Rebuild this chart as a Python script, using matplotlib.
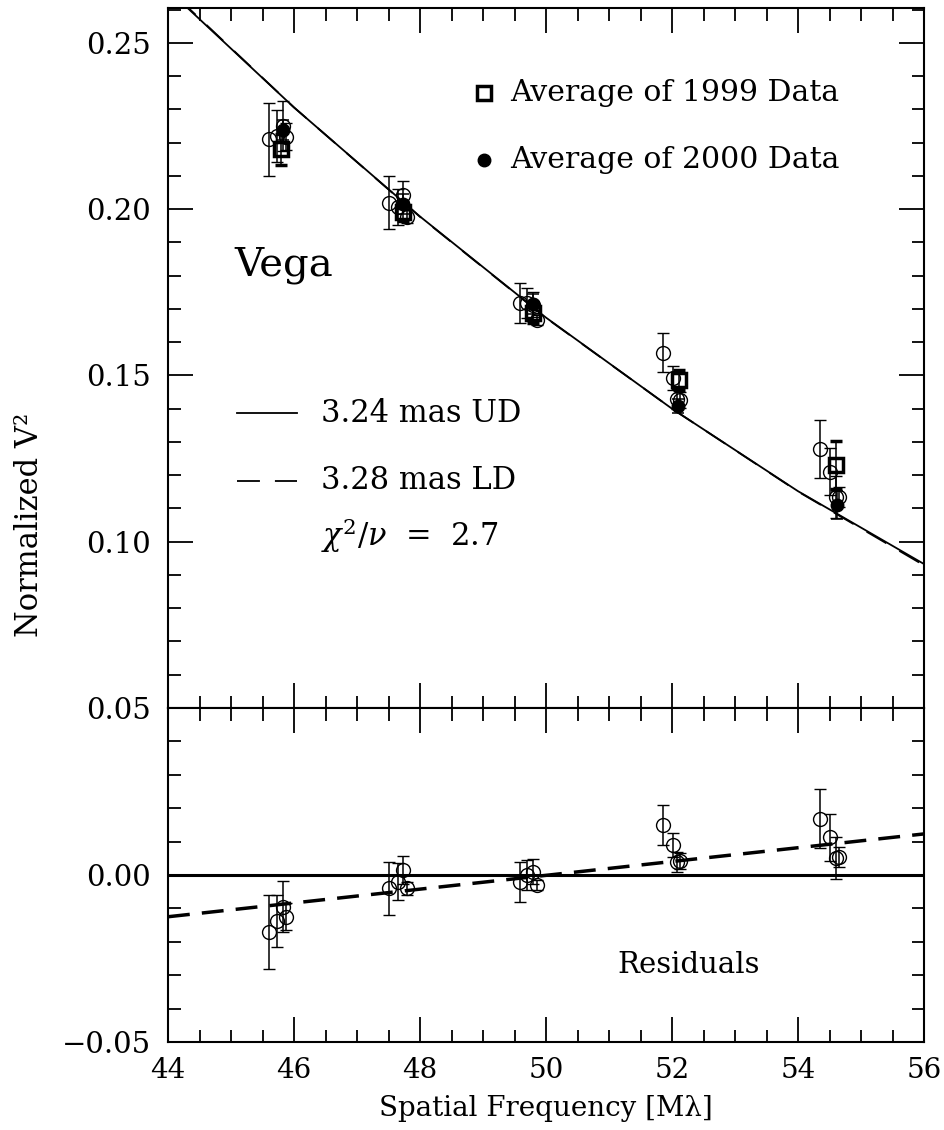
import numpy as np
import matplotlib
matplotlib.use('Agg')
import matplotlib.pyplot as plt
from matplotlib.ticker import MultipleLocator, FormatStrFormatter

plt.rcParams['font.family'] = ['DejaVu Serif']
plt.rcParams['mathtext.fontset'] = 'dejavuserif'

# individual measurements (open circles), 4 per baseline group
freq = [45.61, 45.73, 45.83, 45.88,
        47.51, 47.65, 47.73, 47.79,
        49.58, 49.70, 49.80, 49.85,
        51.85, 52.01, 52.08, 52.13,
        54.35, 54.50, 54.60, 54.65]
v2 = [0.2210, 0.2219, 0.2250, 0.2218,
      0.2020, 0.2007, 0.2043, 0.1977,
      0.1717, 0.1718, 0.1713, 0.1667,
      0.1569, 0.1492, 0.1428, 0.1426,
      0.1279, 0.1211, 0.1134, 0.1134]
v2_err = [0.0110, 0.0078, 0.0076, 0.0040,
          0.0080, 0.0055, 0.0042, 0.0020,
          0.0060, 0.0046, 0.0037, 0.0015,
          0.0060, 0.0037, 0.0030, 0.0025,
          0.0088, 0.0071, 0.0063, 0.0030]
resid = [-0.0170, -0.0137, -0.0095, -0.0125,
         -0.0040, -0.0020, 0.0015, -0.0040,
         -0.0020, 0.0000, 0.0010, -0.0030,
         0.0150, 0.0090, 0.0040, 0.0042,
         0.0168, 0.0113, 0.0050, 0.0055]

# yearly averages
freq_1999 = [45.79, 47.73, 49.80, 52.11, 54.60]
v2_1999 = [0.2180, 0.1993, 0.1689, 0.1486, 0.1231]
err_1999 = [0.0047, 0.0030, 0.0030, 0.0030, 0.0071]
freq_2000 = [45.82, 47.73, 49.80, 52.10, 54.62]
v2_2000 = [0.2238, 0.2017, 0.1715, 0.1408, 0.1111]
err_2000 = [0.0030, 0.0030, 0.0030, 0.0020, 0.0043]

# model curves
model_freq = [44, 46, 48, 50, 52, 54, 56]
ud_v2 = [0.2660, 0.2306, 0.1978, 0.1674, 0.1400, 0.1152, 0.0933]
ld_v2 = [0.2663, 0.2306, 0.1977, 0.1673, 0.1400, 0.1151, 0.0929]

# linear trend in residuals
trend_freq = [44, 56]
trend = [-0.0125, 0.0123]

W, H = 945, 1130
fig = plt.figure(figsize=(W / 100, H / 100), dpi=100)
ax = fig.add_axes([168 / W, (H - 708) / H, 756 / W, 700 / H])
ax2 = fig.add_axes([168 / W, (H - 1042) / H, 756 / W, 334 / H])

ebkw = dict(ecolor='k', elinewidth=1.1, capsize=4.5, capthick=1.1)
ld_dash = (12.7, 8.3)

# top panel
ax.plot(model_freq, ud_v2, color='k', lw=1.3)
ax.plot(model_freq, ld_v2, color='k', lw=1.3, dashes=ld_dash)
ax.errorbar(freq, v2, yerr=v2_err, fmt='o', ms=10, mfc='none', mec='k', mew=1.0, **ebkw)
ax.errorbar(freq_2000, v2_2000, yerr=err_2000, fmt='o', ms=9, mfc='k', mec='k', **ebkw)
ax.errorbar(freq_1999, v2_1999, yerr=err_1999, fmt='s', ms=10, mfc='none', mec='k', mew=2.5, **ebkw)
ax.set_xlim(44, 56)
ax.set_ylim(0.05, 0.2605)

ax.text(0.088, 0.633, 'Vega', transform=ax.transAxes, fontsize=29, va='center')
ax.plot([0.091, 0.171], [0.4214, 0.4214], transform=ax.transAxes, color='k', lw=1.3)
ax.text(0.202, 0.4214, '3.24 mas UD', transform=ax.transAxes, fontsize=22, va='center')
ax.plot([0.091, 0.171], [0.3243, 0.3243], transform=ax.transAxes, color='k', lw=1.3, dashes=ld_dash)
ax.text(0.202, 0.3243, '3.28 mas LD', transform=ax.transAxes, fontsize=22, va='center')
ax.text(0.202, 0.247, r'$\chi^2/\nu$  =  2.7', transform=ax.transAxes, fontsize=22, va='center')
ax.plot([0.418], [0.8786], 's', transform=ax.transAxes, ms=10, mfc='none', mec='k', mew=2.5)
ax.text(0.452, 0.8786, 'Average of 1999 Data', transform=ax.transAxes, fontsize=21.5, va='center')
ax.plot([0.418], [0.783], 'o', transform=ax.transAxes, ms=9, color='k')
ax.text(0.452, 0.783, 'Average of 2000 Data', transform=ax.transAxes, fontsize=21.5, va='center')

# bottom panel
ax2.axhline(0, color='k', lw=2.2)
ax2.plot(trend_freq, trend, color='k', lw=2.5, dashes=(6.3, 3.5))
ax2.errorbar(freq, resid, yerr=v2_err, fmt='o', ms=10, mfc='none', mec='k', mew=1.0, **ebkw)
ax2.set_xlim(44, 56)
ax2.set_ylim(-0.05, 0.05)
ax2.text(0.689, 0.2305, 'Residuals', transform=ax2.transAxes, fontsize=21, ha='center', va='center')

for a in (ax, ax2):
    a.xaxis.set_major_locator(MultipleLocator(2))
    a.xaxis.set_minor_locator(MultipleLocator(0.5))
    a.yaxis.set_major_locator(MultipleLocator(0.05))
    a.yaxis.set_minor_locator(MultipleLocator(0.01))
    a.tick_params(which='both', direction='in', top=True, right=True, width=1.3, labelsize=21)
    a.tick_params(axis='y', pad=12)
    a.tick_params(axis='x', pad=11, labelsize=20)
    a.tick_params(which='major', length=18)
    a.tick_params(which='minor', length=9)
    for s in a.spines.values():
        s.set_linewidth(1.5)

ax.yaxis.set_major_formatter(FormatStrFormatter('%.2f'))
ax.tick_params(labelbottom=False)
ax2.set_yticks([-0.05, 0.0, 0.05])
ax2.set_yticklabels(['\u22120.05', '0.00', ''])

fig.text(30 / W, 1 - 525 / H, 'Normalized V\u00b2', rotation=90, fontsize=22, ha='center', va='center')
fig.text(546 / W, 1 - 1108 / H, 'Spatial Frequency [M\u03bb]', fontsize=20, ha='center', va='center')

fig.savefig('out.png', dpi=100)
